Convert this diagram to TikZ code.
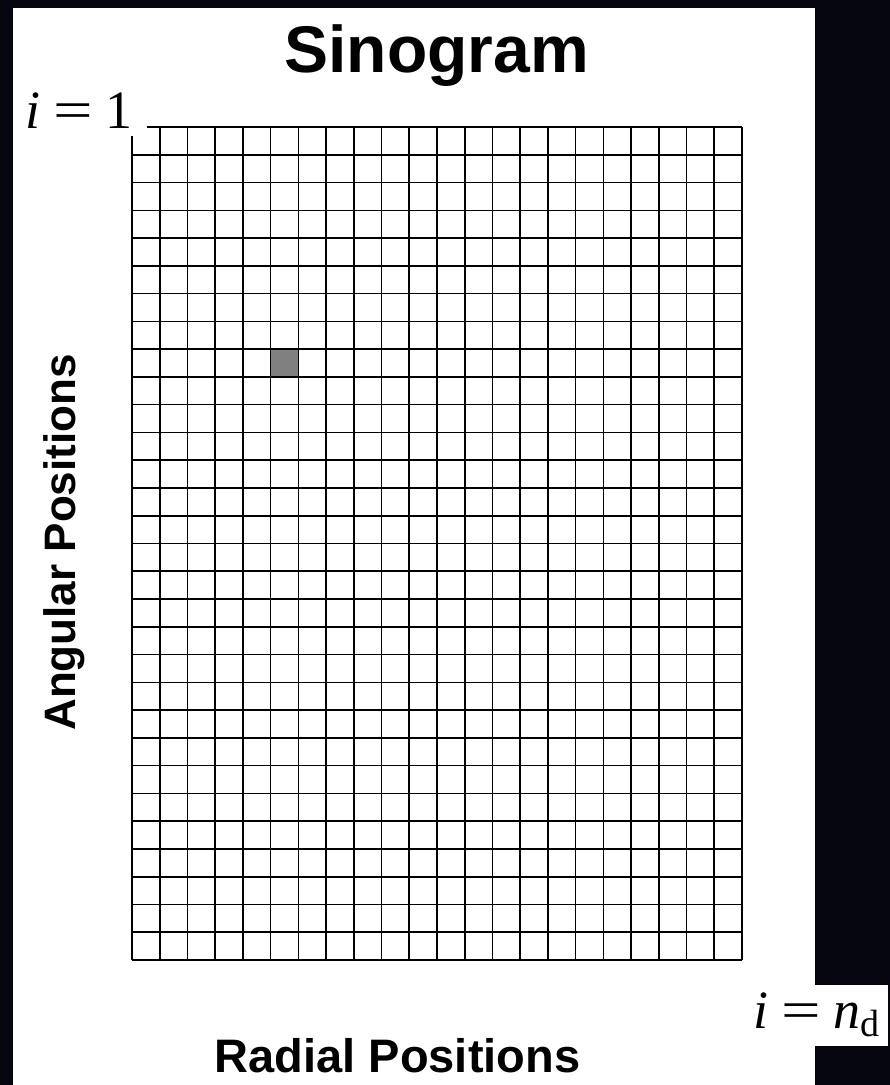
\documentclass[tikz,border=0pt]{standalone}
\usepackage{graphicx}
\usepackage{fontspec}
\setmainfont{Liberation Serif}
\newfontfamily\lsans{Liberation Sans}
\definecolor{bgdark}{RGB}{4,5,15}
\definecolor{cellgray}{RGB}{128,128,128}
\newcommand{\wideeq}{\hspace{0.24em}\scalebox{1.3}[1]{=}\hspace{0.24em}}
\tikzset{
  gridline/.style={line width=1.6pt, black},
  sanslabel/.style={font=\lsans\bfseries, text=black, inner sep=0pt},
  mathlabel/.style={fill=white, inner ysep=0pt, text=black},
}
\begin{document}
\begin{tikzpicture}[x=1pt,y=-1pt]
\useasboundingbox (0,0) rectangle (890,1085);
\fill[bgdark] (0,0) rectangle (890,1085);
\fill[white] (13,8) rectangle (815,1085);
% highlighted cell
\fill[cellgray] (132+5*27.727,127+8*27.767) rectangle (132+6*27.727,127+9*27.767);
% grid
\foreach \i in {0,...,22}{
  \draw[gridline] (132+\i*27.727,127) -- (132+\i*27.727,960);
}
\foreach \j in {0,...,30}{
  \draw[gridline] (132,127+\j*27.767) -- (742,127+\j*27.767);
}
% labels
\node[sanslabel, anchor=base, font=\lsans\bfseries\fontsize{66}{70}\selectfont] (title) at (436.5,72) {Sinogram};
\node[sanslabel, anchor=base, font=\lsans\bfseries\fontsize{47}{50}\selectfont] (radial) at (397.5,1072) {Radial Positions};
\node[sanslabel, anchor=base, rotate=90, font=\lsans\bfseries\fontsize{44}{48}\selectfont] (angular) at (75,542.5) {Angular Positions};
\begin{scope}
\clip (13,8) rectangle (815,1085);
\node[mathlabel, anchor=base east, inner xsep=14pt, text height=45pt, text depth=8pt, font=\fontsize{54}{60}\selectfont] (ifirst) at (147,128) {\textit{i}\wideeq 1};
\end{scope}
\node[mathlabel, anchor=base east, inner xsep=8pt, text height=43pt, text depth=18pt, font=\fontsize{54}{60}\selectfont] (ilast) at (888,1028) {\textit{i}\wideeq\textit{n}\raisebox{-8pt}{\fontsize{38}{40}\selectfont d}};
\end{tikzpicture}
\end{document}
